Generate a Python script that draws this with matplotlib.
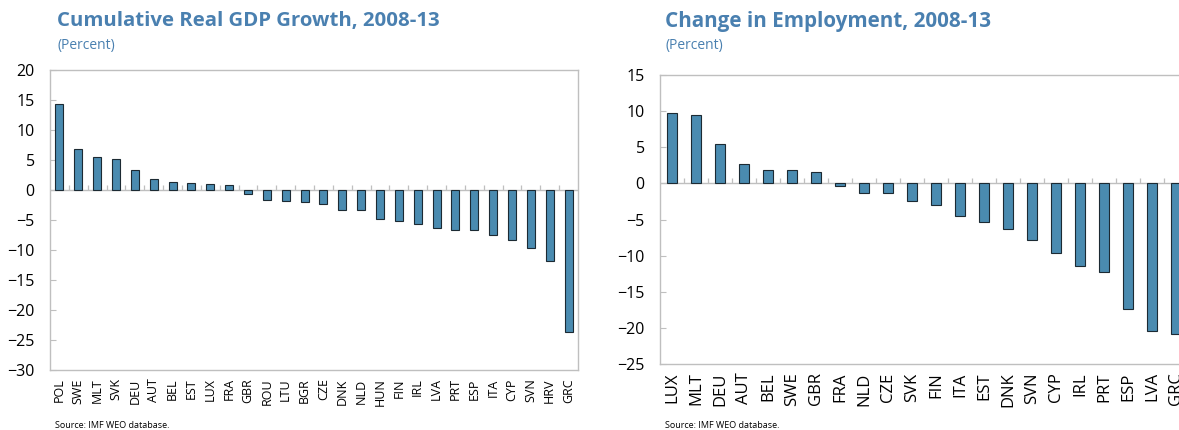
import numpy as np
import matplotlib
matplotlib.use("Agg")
import matplotlib.pyplot as plt

plt.rcParams['font.family'] = ['Open Sans', 'DejaVu Sans']

# Cumulative real GDP growth 2008-13 (percent)
gdp_countries = ["POL", "SWE", "MLT", "SVK", "DEU", "AUT", "BEL", "EST", "LUX", "FRA",
                 "GBR", "ROU", "LTU", "BGR", "CZE", "DNK", "NLD", "HUN", "FIN", "IRL",
                 "LVA", "PRT", "ESP", "ITA", "CYP", "SVN", "HRV", "GRC"]
gdp_values = [14.3, 6.8, 5.5, 5.1, 3.4, 1.8, 1.3, 1.1, 1.0, 0.9,
              -0.6, -1.7, -1.9, -2.0, -2.3, -3.3, -3.3, -4.9, -5.2, -5.6,
              -6.4, -6.7, -6.7, -7.5, -8.4, -9.6, -11.9, -23.6]

# Change in employment 2008-13 (percent)
emp_countries = ["LUX", "MLT", "DEU", "AUT", "BEL", "SWE", "GBR", "FRA", "NLD", "CZE",
                 "SVK", "FIN", "ITA", "EST", "DNK", "SVN", "CYP", "IRL", "PRT", "ESP",
                 "LVA", "GRC"]
emp_values = [9.8, 9.4, 5.5, 2.7, 1.9, 1.9, 1.6, -0.4, -1.3, -1.3,
              -2.5, -3.0, -4.5, -5.3, -6.3, -7.9, -9.6, -11.5, -12.2, -17.4,
              -20.5, -20.8]

title_color = "#4a80b0"
bar_color = "#4a8bb0"
grid_gray = "#bfbfbf"

W, H = 1179, 430
fig = plt.figure(figsize=(W / 100, H / 100), dpi=100)


def draw_panel(rect, cats, vals, ylim, yticks, width, tick_fs, xlab_fs, sep_h):
    ax = fig.add_axes(rect)
    x = np.arange(len(cats))
    ax.bar(x, vals, width=width, color=bar_color, edgecolor="#1c2a33", linewidth=0.8, zorder=3)
    ax.axhline(0, color=grid_gray, linewidth=1.0, zorder=2)
    # small separators on top of the zero line
    ax.vlines(x[:-1] + 0.5, 0, sep_h, color=grid_gray, linewidth=0.9, zorder=2)
    ax.set_xlim(-0.5, len(cats) - 0.5)
    ax.set_ylim(*ylim)
    ax.set_yticks(yticks)
    ax.set_xticks(x)
    ax.set_xticklabels(cats, rotation=90, fontsize=xlab_fs)
    ax.tick_params(axis="x", length=0, pad=6)
    ax.tick_params(axis="y", direction="in", length=4, color=grid_gray, labelsize=tick_fs, pad=11)
    for s in ax.spines.values():
        s.set_color(grid_gray)
        s.set_linewidth(1.0)
    return ax


ax1 = draw_panel([50 / W, (H - 370) / H, 528 / W, 300 / H],
                 gdp_countries, gdp_values, (-30, 20), np.arange(-30, 21, 5),
                 0.42, 11.5, 9, 0.8)
ax2 = draw_panel([660 / W, (H - 364) / H, 528 / W, 289 / H],
                 emp_countries, emp_values, (-25, 15), np.arange(-25, 16, 5),
                 0.4, 11.5, 12, 0.7)

fig.text(57 / W, 1 - 21 / H, "Cumulative Real GDP Growth, 2008-13", color=title_color,
         fontsize=14.7, fontweight="bold", va="center", ha="left")
fig.text(57 / W, 1 - 46 / H, "(Percent)", color=title_color, fontsize=10, va="center", ha="left")
fig.text(665 / W, 1 - 21 / H, "Change in Employment, 2008-13", color=title_color,
         fontsize=14.9, fontweight="bold", va="center", ha="left")
fig.text(665 / W, 1 - 46 / H, "(Percent)", color=title_color, fontsize=10, va="center", ha="left")

fig.text(55 / W, 1 - 425 / H, "Source: IMF WEO database.", fontsize=6.5, va="center", ha="left")
fig.text(665 / W, 1 - 425 / H, "Source: IMF WEO database.", fontsize=6.5, va="center", ha="left")

fig.savefig("out.png", dpi=100)
